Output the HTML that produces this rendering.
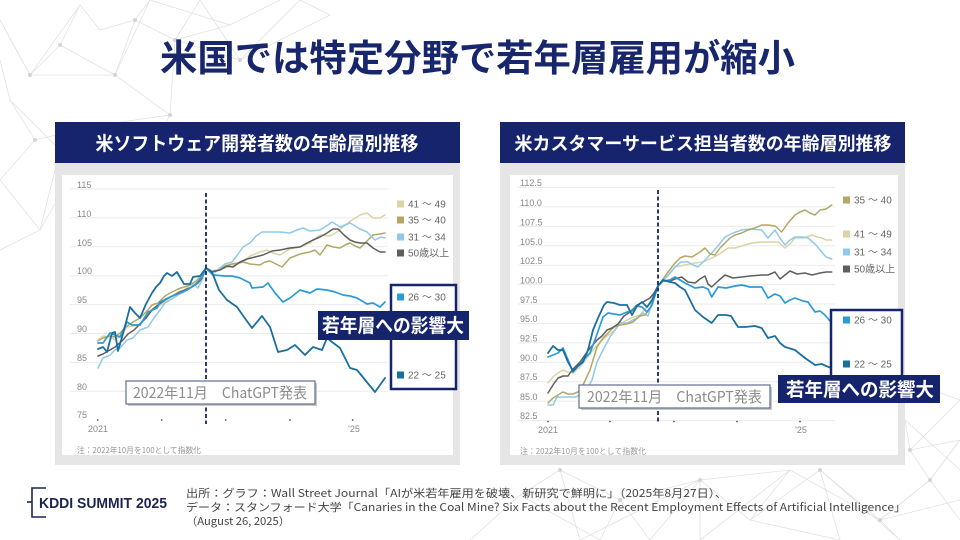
<!DOCTYPE html>
<html><head><meta charset="utf-8"><style>
html,body{margin:0;padding:0;background:#fff;}
svg{display:block;}
text{font-family:"Liberation Sans","Noto Sans CJK JP",sans-serif;}
.j{font-family:"Noto Sans CJK JP","Liberation Sans",sans-serif;}
</style></head><body>
<svg width="960" height="540" viewBox="0 0 960 540" xmlns="http://www.w3.org/2000/svg">
<rect width="960" height="540" fill="#fff"/>
<!-- background network -->
<g stroke="#e2e2e2" stroke-width="0.8" fill="none">
<polyline points="0,20 30,75 60,45 80,5 100,30 135,20 150,0"/>
<polyline points="30,75 115,75 170,115 100,125 60,150 10,100 0,60"/>
<polyline points="60,45 115,75 135,20 175,40 170,115"/>
<polyline points="10,100 35,140 0,180 40,230 60,150 100,125 140,170 170,115"/>
<polyline points="35,140 100,125 40,230 0,250"/>
<polyline points="80,5 30,75 0,20"/>
<polyline points="175,40 200,0"/>
<polyline points="140,170 100,210"/>
<polyline points="115,75 150,0 230,25 175,40 240,60 300,0 330,15 240,60 200,0"/>
<polyline points="230,25 280,0"/>
<polyline points="470,540 520,495 560,470 620,500 700,480 750,520 820,470 880,520 930,480 960,440"/>
<polyline points="520,495 600,540 620,500 650,540 700,480 790,470 750,520 840,540 820,470 900,540 880,520 930,480 960,520"/>
<polyline points="905,380 960,400 910,450 960,440 930,480 910,450 905,420 960,470"/>
<polyline points="560,470 580,540 700,480 700,540 790,470 880,520 960,500"/>
</g>
<g fill="#d4d4d4">
<circle cx="30" cy="75" r="2"/><circle cx="60" cy="45" r="2"/><circle cx="115" cy="75" r="2"/><circle cx="100" cy="125" r="2"/><circle cx="60" cy="150" r="2"/><circle cx="135" cy="20" r="2"/><circle cx="170" cy="115" r="2"/><circle cx="35" cy="140" r="2"/><circle cx="240" cy="60" r="2"/><circle cx="175" cy="40" r="2"/>
<circle cx="560" cy="470" r="2"/><circle cx="700" cy="480" r="2"/><circle cx="820" cy="470" r="2"/><circle cx="880" cy="520" r="2"/><circle cx="930" cy="480" r="2"/><circle cx="910" cy="450" r="2"/><circle cx="620" cy="500" r="2"/>
</g>

<!-- title -->
<text class="j" x="160" y="71" font-size="37" font-weight="bold" fill="#17266d" textLength="635" lengthAdjust="spacingAndGlyphs">米国では特定分野で若年層雇用が縮小</text>

<!-- LEFT PANEL -->
<rect x="55" y="122" width="405" height="41" fill="#15246c"/>
<text class="j" x="257" y="150" font-size="19" font-weight="bold" fill="#fff" text-anchor="middle" textLength="323" lengthAdjust="spacingAndGlyphs">米ソフトウェア開発者数の年齢層別推移</text>
<rect x="55" y="163" width="405" height="302" fill="#e6e6e6"/>
<rect x="62" y="175" width="391" height="280" fill="#fff"/>
<g stroke="#ebebeb" stroke-width="1">
<line x1="70" y1="189" x2="388" y2="189"/><line x1="70" y1="217.9" x2="388" y2="217.9"/><line x1="70" y1="246.8" x2="388" y2="246.8"/><line x1="70" y1="275.7" x2="388" y2="275.7"/><line x1="70" y1="304.6" x2="388" y2="304.6"/><line x1="70" y1="333.5" x2="388" y2="333.5"/><line x1="70" y1="362.4" x2="388" y2="362.4"/><line x1="70" y1="391.3" x2="388" y2="391.3"/>
</g>
<g font-size="9" fill="#888">
<text x="77" y="188">115</text><text x="77" y="217">110</text><text x="77" y="246">105</text><text x="77" y="274">100</text><text x="77" y="303">95</text><text x="77" y="332">90</text><text x="77" y="361">85</text><text x="77" y="390">80</text><text x="77" y="418">75</text>
<text x="98" y="432" text-anchor="middle">2021</text><text x="354" y="432" text-anchor="middle">'25</text>
</g>
<g fill="#555"><circle cx="97.7" cy="420" r="0.9"/><circle cx="161.7" cy="420" r="0.9"/><circle cx="225.7" cy="420" r="0.9"/><circle cx="290" cy="420" r="0.9"/><circle cx="352.7" cy="420" r="0.9"/></g>
<text class="j" x="77" y="453" font-size="8" fill="#999" textLength="124" lengthAdjust="spacingAndGlyphs">注：2022年10月を100として指数化</text>
<g fill="none" stroke-linejoin="round" stroke-linecap="round">
<polyline stroke="#dad4a6" stroke-width="1.5" points="98,340 103,336 110,337 115,340 120,336 127,327 133,326 140,324 146,316 152,309 158,307 165,302 172,297 178,292 184,290 190,285 196,282 201,278 206,268 212,271 218,270 225,268 232,266 243,262 250,256 260,252 267,250 273,253 280,255 290,249 300,247 310,243 320,235 330,236 337,232 345,225 352,220 360,215 367,213 373,218 380,218 385,215"/>
<polyline stroke="#b4a765" stroke-width="1.5" points="98,341 103,338 110,336 115,337 120,333 127,326 133,322 140,318 146,312 152,305 158,303 165,296 172,292 178,289 184,287 190,285 196,281 201,276 206,268 212,271 218,270 225,266 232,264 243,262 250,264 260,265 265,262 270,261 276,264 282,267 290,258 300,254 310,252 315,250 320,255 327,245 333,247 340,248 345,245 350,243 355,246 360,248 366,242 373,235 380,234 385,233"/>
<polyline stroke="#90c9ec" stroke-width="1.5" points="98,368 103,358 110,355 115,350 120,348 127,340 133,338 140,330 148,327 154,318 160,310 165,303 172,299 178,295 184,292 190,288 194,284 198,288 202,280 206,268 210,271 215,272 220,268 225,264 232,262 238,254 243,247 250,243 256,236 262,232 270,232 280,232 290,233 297,230 303,228 310,231 320,230 328,225 332,222 340,227 350,223 355,226 360,229 367,232 375,240 381,237 385,238"/>
<polyline stroke="#5f5f5f" stroke-width="1.5" points="98,356 103,354 110,350 115,347 122,341 128,334 134,330 140,324 146,318 152,310 158,305 165,300 172,296 178,293 185,290 192,287 198,283 202,278 206,268 212,272 220,270 227,266 233,267 240,262 247,259 255,257 263,255 272,251 280,250 290,248 300,247 307,243 313,240 320,237 327,233 333,229 338,229 344,235 350,240 355,242 360,243 367,243 373,248 380,252 385,252"/>
<polyline stroke="#2b9bd8" stroke-width="1.7" points="98,343 103,343 110,333 115,335 120,337 127,322 132,325 140,325 148,312 157,308 160,302 170,297 180,293 187,290 195,285 202,277 206,268 213,275 225,276 232,276 240,278 250,283 252,288 263,287 268,283 275,293 283,302 290,298 300,290 310,293 317,289 327,290 335,292 343,295 350,296 357,298 362,301 367,304 373,303 380,307 385,302"/>
<polyline stroke="#1b6f9f" stroke-width="1.8" points="98,349 103,347 107,352 112,333 115,332 118,351 124,330 130,307 135,313 140,318 146,304 152,293 156,287 160,283 164,276 167,273 172,276 177,272 181,279 184,284 190,284 193,277 200,276 206,268 212,272 219,290 227,300 237,307 244,317 252,328 262,316 270,327 278,352 287,350 295,345 305,355 313,347 322,350 327,338 332,342 340,348 345,358 350,368 357,370 366,381 375,392 385,378"/>
</g>
<line x1="206" y1="193" x2="206" y2="424" stroke="#15246c" stroke-width="1.8" stroke-dasharray="4,2.5"/>
<!-- legend left -->
<g font-size="10" fill="#666">
<rect x="397" y="200.5" width="7" height="7" fill="#dad4a6"/><text x="408" y="207.5">41 ～ 49</text>
<rect x="397" y="216.5" width="7" height="7" fill="#b4a765"/><text x="408" y="223.5">35 ～ 40</text>
<rect x="397" y="233.5" width="7" height="7" fill="#90c9ec"/><text x="408" y="240.5">31 ～ 34</text>
<rect x="397" y="249.5" width="7" height="7" fill="#5f5f5f"/><text x="408" y="256.5">50歳以上</text>
</g>
<rect x="391" y="285" width="65" height="104" fill="#fff" stroke="#15246c" stroke-width="2.5"/>
<g font-size="10" fill="#666">
<rect x="397" y="293.5" width="7" height="7" fill="#2b9bd8"/><text x="408" y="300.5">26 ～ 30</text>
<rect x="397" y="371.5" width="7" height="7" fill="#1b6f9f"/><text x="408" y="378.5">22 ～ 25</text>
</g>
<rect x="318" y="311" width="151" height="29" fill="#15246c"/>
<text class="j" x="393" y="332" font-size="19" font-weight="bold" fill="#fff" text-anchor="middle" textLength="142" lengthAdjust="spacingAndGlyphs">若年層への影響大</text>
<rect x="128" y="383" width="189" height="23" fill="#c8c8c8"/>
<rect x="126" y="381" width="189" height="23" fill="#fff" stroke="#5d6d92" stroke-width="1.2"/>
<text class="j" x="133" y="398" font-size="15" fill="#8c8c8c" textLength="174" lengthAdjust="spacingAndGlyphs">2022年11月　ChatGPT発表</text>

<!-- RIGHT PANEL -->
<rect x="500" y="122" width="405" height="41" fill="#15246c"/>
<text class="j" x="703" y="150" font-size="18" font-weight="bold" fill="#fff" text-anchor="middle" textLength="377" lengthAdjust="spacingAndGlyphs">米カスタマーサービス担当者数の年齢層別推移</text>
<rect x="500" y="163" width="405" height="302" fill="#e6e6e6"/>
<rect x="510" y="175" width="388" height="280" fill="#fff"/>
<g stroke="#ebebeb" stroke-width="1">
<line x1="518" y1="187.5" x2="835" y2="187.5"/><line x1="518" y1="206.9" x2="835" y2="206.9"/><line x1="518" y1="226.4" x2="835" y2="226.4"/><line x1="518" y1="245.8" x2="835" y2="245.8"/><line x1="518" y1="265.2" x2="835" y2="265.2"/><line x1="518" y1="284.6" x2="835" y2="284.6"/><line x1="518" y1="304" x2="835" y2="304"/><line x1="518" y1="323.5" x2="835" y2="323.5"/><line x1="518" y1="342.9" x2="835" y2="342.9"/><line x1="518" y1="362.3" x2="835" y2="362.3"/><line x1="518" y1="381.7" x2="835" y2="381.7"/><line x1="518" y1="401.1" x2="835" y2="401.1"/><line x1="518" y1="420.6" x2="835" y2="420.6"/>
</g>
<g font-size="9" fill="#888">
<text x="520" y="186">112.5</text><text x="520" y="206">110.0</text><text x="520" y="225.5">107.5</text><text x="520" y="245">105.0</text><text x="520" y="264">102.5</text><text x="520" y="283.5">100.0</text><text x="520" y="303">97.5</text><text x="520" y="322">95.0</text><text x="520" y="341.5">92.5</text><text x="520" y="361">90.0</text><text x="520" y="380">87.5</text><text x="520" y="400">85.0</text><text x="520" y="419">82.5</text>
<text x="548" y="433" text-anchor="middle">2021</text><text x="801" y="433" text-anchor="middle">'25</text>
</g>
<g fill="#555"><circle cx="548" cy="421.5" r="0.9"/><circle cx="610" cy="421.5" r="0.9"/><circle cx="674" cy="421.5" r="0.9"/><circle cx="737" cy="421.5" r="0.9"/><circle cx="800" cy="421.5" r="0.9"/></g>
<text class="j" x="520" y="454" font-size="8" fill="#999" textLength="126" lengthAdjust="spacingAndGlyphs">注：2022年10月を100として指数化</text>
<g fill="none" stroke-linejoin="round" stroke-linecap="round">
<polyline stroke="#dad4a6" stroke-width="1.5" points="548,383 553,377 558,373 563,370 568,372 573,373 580,367 587,358 593,350 600,342 607,336 614,331 620,324 627,320 634,317 640,315 647,307 652,301 658,286 663,280 668,276 675,267 685,265 695,263 703,262 711.7,258 718,255 728,248 735,248 745,245 752,243 761.7,242 770,242 778,242 785,248 790,244 795,238 803,238 811.7,235 817,237 821.7,238 826,240 831.7,240"/>
<polyline stroke="#90c9ec" stroke-width="1.5" points="548,405 553,405 557,397 563,397 568,397 575,397 580,395 587,390 592,380 597,362 603,350 610,337 615,330 620,323 627,323 633,320 637,318 643,313 648,316 653,300 658,286 663,280 668,275 675,267 681,262 688,262 693,265 698,267 705,260 711.7,253 718,246 725,237 733,233 741.7,230 750,229 761.7,230 768,238 775,230 780,238 785,245 790,240 795,237 803,237 808,238 815,244 821.7,252 826,257 831.7,259"/>
<polyline stroke="#b4a765" stroke-width="1.5" points="548,403 553,398 558,395 563,392 568,394 573,394 578,392 584,383 590,370 597,347 603,338 610,331 614,327 620,325 627,324 633,322 640,316 645,315 650,308 654,298 658,286 663,279 668,272 675,263 680,258 685,256 692,257 700,252 705,248 710,254 715,255 720,248 725,243 730,238 735,235 741.7,233 748,230 755,228 761.7,225 768,225 775,226 781.7,232 788,223 795,215 800,212 805,210 810,213 815,215 820,210 826,209 831.7,205"/>
<polyline stroke="#5f5f5f" stroke-width="1.5" points="548,393 553,385 558,378 563,376 568,376 573,369 580,362 587,352 592,346 597,340 602,336 607,330 612,328 618,324 624,316 630,312 637,305 643,302 650,298 654,293 658,286 663,281 670,281 675,279 681.7,277 688,282 695,283 700,279 705,276 708,284 711.7,287 718,281 725,275 733,278 741.7,277 750,276 761.7,275 768,275 775,272 780,279 785,275 790,271 797,274 805,273 812,275 820,273 826,272 831.7,272"/>
<polyline stroke="#2b9bd8" stroke-width="1.7" points="548,357 553,355 558,353 563,348 568,360 573,372 578,366 583,360 590,353 596,337 603,317 608,313 614,314 620,315 627,312 632,311 637,306 642,307 647,312 652,305 658,286 663,281 670,280 675,277 685,283 695,288 703,287 708,289 711.7,297 718,287 726,288 735,286 742,285 750,287 761.7,287 768,298 775,294 780,296 785,303 790,300 795,298 803,301 808,302 815,312 820,311 825,315 831.7,323"/>
<polyline stroke="#1b6f9f" stroke-width="1.8" points="548,353 553,346 558,350 563,350 568,362 573,371 578,366 583,362 588,350 593,330 598,318 604,305 607,302 614,303 620,305 627,305 632,315 637,306 642,302 647,307 652,300 658,286 663,280 670,282 675,283 680,287 685,290 690,300 695,310 703,317 711.7,323 718,315 726,315 731,316 738,327 745,327 755,326 761.7,328 768,338 775,336 780,343 785,347 795,350 800,354 805,358 815,365 821.7,364 826,366 831.7,368"/>
</g>
<line x1="658" y1="190" x2="658" y2="424" stroke="#15246c" stroke-width="1.8" stroke-dasharray="4,2.5"/>
<g font-size="10" fill="#666">
<rect x="843" y="196.5" width="7" height="7" fill="#b4a765"/><text x="854" y="203.5">35 ～ 40</text>
<rect x="843" y="230.5" width="7" height="7" fill="#dad4a6"/><text x="854" y="237.5">41 ～ 49</text>
<rect x="843" y="248.5" width="7" height="7" fill="#90c9ec"/><text x="854" y="255.5">31 ～ 34</text>
<rect x="843" y="265.5" width="7" height="7" fill="#5f5f5f"/><text x="854" y="272.5">50歳以上</text>
</g>
<rect x="831" y="310" width="71" height="72" fill="#fff" stroke="#15246c" stroke-width="2.5"/>
<g font-size="10" fill="#666">
<rect x="843" y="316.5" width="7" height="7" fill="#2b9bd8"/><text x="854" y="323.5">26 ～ 30</text>
<rect x="843" y="360.5" width="7" height="7" fill="#1b6f9f"/><text x="854" y="367.5">22 ～ 25</text>
</g>
<rect x="778" y="375" width="162" height="28" fill="#15246c"/>
<text class="j" x="860" y="396" font-size="19" font-weight="bold" fill="#fff" text-anchor="middle" textLength="148" lengthAdjust="spacingAndGlyphs">若年層への影響大</text>
<rect x="581" y="387" width="191" height="23" fill="#c8c8c8"/>
<rect x="579" y="385" width="191" height="23" fill="#fff" stroke="#5d6d92" stroke-width="1.2"/>
<text class="j" x="587" y="402" font-size="15" fill="#8c8c8c" textLength="175" lengthAdjust="spacingAndGlyphs">2022年11月　ChatGPT発表</text>

<!-- footer -->
<g stroke="#1c2550" stroke-width="1.6" fill="none">
<polyline points="46,488 32,488 32,517 46,517"/>
<line x1="27" y1="502" x2="32" y2="502"/>
</g>
<text x="39" y="508" font-size="15" font-weight="bold" fill="#1c2550" textLength="128" lengthAdjust="spacingAndGlyphs">KDDI SUMMIT 2025</text>
<g font-size="11" fill="#444">
<text class="j" x="186" y="497" textLength="541" lengthAdjust="spacingAndGlyphs">出所：グラフ：Wall Street Journal「AIが米若年雇用を破壊、新研究で鮮明に」（2025年8月27日）、</text>
<text class="j" x="186" y="511" textLength="720" lengthAdjust="spacingAndGlyphs">データ：スタンフォード大学「Canaries in the Coal Mine? Six Facts about the Recent Employment Effects of Artificial Intelligence」</text>
<text class="j" x="186" y="525" textLength="104" lengthAdjust="spacingAndGlyphs">（August 26, 2025）</text>
</g>
</svg>
</body></html>
